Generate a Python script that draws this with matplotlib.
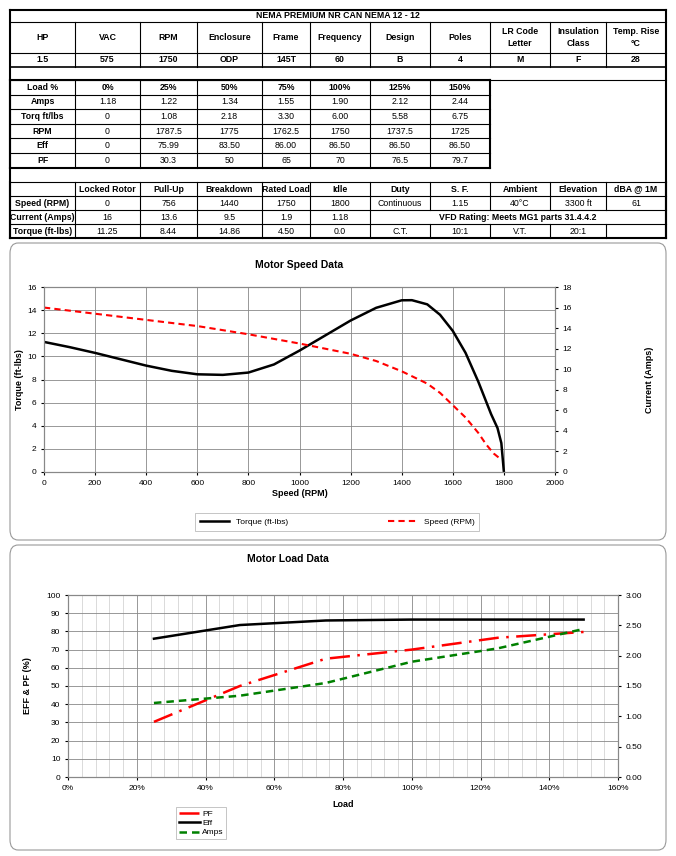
import matplotlib
matplotlib.use("Agg")
import matplotlib.pyplot as plt
from matplotlib.patches import FancyBboxPatch
import numpy as np

W, H = 676, 856
plt.rcParams['font.family'] = ['Liberation Sans', 'DejaVu Sans']

title = "NEMA PREMIUM NR CAN NEMA 12 - 12"
head1 = ["HP", "VAC", "RPM", "Enclosure", "Frame", "Frequency", "Design", "Poles", "LR Code\nLetter", "Insulation\nClass", "Temp. Rise\n°C"]
vals1 = ["1.5", "575", "1750", "ODP", "145T", "60", "B", "4", "M", "F", "28"]
load_rows = [
    ["Load %", "0%", "25%", "50%", "75%", "100%", "125%", "150%"],
    ["Amps", "1.18", "1.22", "1.34", "1.55", "1.90", "2.12", "2.44"],
    ["Torq ft/lbs", "0", "1.08", "2.18", "3.30", "6.00", "5.58", "6.75"],
    ["RPM", "0", "1787.5", "1775", "1762.5", "1750", "1737.5", "1725"],
    ["Eff", "0", "75.99", "83.50", "86.00", "86.50", "86.50", "86.50"],
    ["PF", "0", "30.3", "50", "65", "70", "76.5", "79.7"],
]
perf_head = ["", "Locked Rotor", "Pull-Up", "Breakdown", "Rated Load", "Idle", "Duty", "S. F.", "Ambient", "Elevation", "dBA @ 1M"]
perf_rows = [
    ["Speed (RPM)", "0", "756", "1440", "1750", "1800", "Continuous", "1.15", "40°C", "3300 ft", "61"],
    ["Current (Amps)", "16", "13.6", "9.5", "1.9", "1.18"],
    ["Torque (ft-lbs)", "11.25", "8.44", "14.86", "4.50", "0.0", "C.T.", "10:1", "V.T.", "20:1", ""],
]
vfd_text = "VFD Rating: Meets MG1 parts 31.4.4.2"

spd_x = [0, 100, 200, 300, 400, 500, 600, 700, 800, 900, 1000, 1100, 1200, 1300, 1400, 1440, 1500, 1550, 1600, 1650, 1700, 1750, 1775, 1790, 1800]
torque = [11.25, 10.8, 10.3, 9.75, 9.2, 8.75, 8.45, 8.4, 8.6, 9.3, 10.5, 11.8, 13.1, 14.2, 14.85, 14.86, 14.5, 13.6, 12.2, 10.3, 7.8, 5.0, 3.8, 2.5, 0.0]
cur_x = [0, 200, 400, 600, 800, 1000, 1200, 1300, 1400, 1450, 1500, 1550, 1600, 1650, 1700, 1730, 1760, 1790]
current = [16.0, 15.4, 14.8, 14.2, 13.4, 12.5, 11.5, 10.8, 9.8, 9.2, 8.6, 7.7, 6.5, 5.3, 3.8, 2.7, 1.8, 1.2]

load_pct = [25, 50, 75, 100, 125, 150]
eff = [75.99, 83.50, 86.00, 86.50, 86.50, 86.50]
pf = [30.3, 50, 65, 70, 76.5, 79.7]
amps = [1.22, 1.34, 1.55, 1.90, 2.12, 2.44]

fig = plt.figure(figsize=(W/100, H/100), dpi=100)
fig.patch.set_facecolor('white')

def X(px): return px / W
def Y(py): return 1 - py / H
def hline(x0, x1, y, lw=0.8):
    fig.add_artist(plt.Line2D([X(x0), X(x1)], [Y(y), Y(y)], color='black', lw=lw))
def vline(x, y0, y1, lw=0.8):
    fig.add_artist(plt.Line2D([X(x), X(x)], [Y(y0), Y(y1)], color='black', lw=lw))
def txt(x, y, s, bold=False, size=6.3):
    fig.text(X(x), Y(y), s, ha='center', va='center', fontsize=size,
             fontweight='bold' if bold else 'normal', linespacing=1.4)

# Panels (behind everything)
for (y0, y1) in [(243, 540), (545, 850)]:
    fig.add_artist(FancyBboxPatch((X(10), Y(y1)), X(656), (y1 - y0) / H,
                                  boxstyle="round,pad=0,rounding_size=0.012",
                                  fc='white', ec='#999999', lw=0.8,
                                  transform=fig.transFigure, zorder=-5))

cols = [10, 75, 140, 197, 262, 310, 370, 430, 490, 550, 606, 666]
# Table 1
hline(10, 666, 10, 1.5); hline(10, 666, 22); hline(10, 666, 53); hline(10, 666, 67, 1.2)
vline(10, 10, 238, 1.5); vline(666, 10, 238, 1.5)
txt(338, 16, title, bold=True)
for i in range(11):
    if i > 0:
        vline(cols[i], 22, 67)
    cx = (cols[i] + cols[i+1]) / 2
    txt(cx, 37.5, head1[i], bold=True)
    txt(cx, 60, vals1[i], bold=True)
# Load table
ly = [80, 95, 109, 124, 138, 153, 168]
for y in ly:
    hline(10, 490, y, 1.5 if y in (80, 168) else 0.8)
hline(10, 666, 80, 0.8)
for i in range(9):
    vline(cols[i], 80, 168, 1.5 if i in (0, 8) else 0.8)
for r, row in enumerate(load_rows):
    for c, s in enumerate(row):
        txt((cols[c] + cols[c+1]) / 2, (ly[r] + ly[r+1]) / 2, s, bold=(r == 0 or c == 0))
# Performance table
py = [182, 196, 210, 224, 238]
for y in py:
    hline(10, 666, y, 1.5 if y == 238 else 0.8)
for i in range(12):
    if i in (7, 8, 9, 10):
        vline(cols[i], 182, 210); vline(cols[i], 224, 238)
    else:
        vline(cols[i], 182, 238, 1.5 if i in (0, 11) else 0.8)
for c, s in enumerate(perf_head):
    txt((cols[c] + cols[c+1]) / 2, 189, s, bold=True)
for r, row in enumerate(perf_rows):
    for c, s in enumerate(row):
        txt((cols[c] + cols[c+1]) / 2, (py[r+1] + py[r+2]) / 2, s, bold=(c == 0))
txt((370 + 666) / 2, 217, vfd_text, bold=True)

# Speed chart
ax = fig.add_axes([X(44), Y(472), X(555 - 44), (472 - 287) / H])
l1, = ax.plot(spd_x, torque, color='black', lw=1.8, label='Torque (ft-lbs)')
ax.set_xlim(0, 2000); ax.set_ylim(0, 16)
ax.set_xticks(range(0, 2001, 200)); ax.set_yticks(range(0, 17, 2))
ax.grid(True, color='#888888', lw=0.6)
ax.tick_params(labelsize=6, length=2)
ax.set_xlabel('Speed (RPM)', fontsize=6.5, fontweight='bold', labelpad=2)
ax.set_ylabel('Torque (ft-lbs)', fontsize=6.5, fontweight='bold', labelpad=2)
ax.set_title('Motor Speed Data', fontsize=7.5, fontweight='bold', pad=14)
for s in ax.spines.values(): s.set_color('#888888')
ax2 = ax.twinx()
l2, = ax2.plot(cur_x, current, color='red', lw=1.5, ls=(0, (3, 2)), label='Speed (RPM)')
ax2.set_ylim(0, 18); ax2.set_yticks(range(0, 19, 2))
ax2.tick_params(labelsize=6, length=2)
ax2.set_ylabel('Current (Amps)', fontsize=6.5, fontweight='bold')
ax2.yaxis.set_label_coords((645 - 44) / 511, 0.5)
for s in ax2.spines.values(): s.set_color('#888888')
leg = fig.legend([l1, l2], ['Torque (ft-lbs)', 'Speed (RPM)'], ncol=2, fontsize=6,
                 loc='center', bbox_to_anchor=(X(337), Y(522)), fancybox=False,
                 edgecolor='#aaaaaa', columnspacing=12, handlelength=3.5, borderpad=0.6)
leg.get_frame().set_linewidth(0.6)

# Load chart
bx = fig.add_axes([X(68), Y(777), X(618 - 68), (777 - 595) / H])
p1, = bx.plot(load_pct, pf, color='red', lw=1.8, ls=(0, (8, 3, 1, 3)), label='PF')
p2, = bx.plot(load_pct, eff, color='black', lw=1.8, label='Eff')
bx.set_xlim(0, 160); bx.set_ylim(0, 100)
bx.set_xticks(range(0, 161, 20)); bx.set_xticklabels([f"{v}%" for v in range(0, 161, 20)])
bx.set_xticks(range(0, 161, 4), minor=True)
bx.set_yticks(range(0, 101, 10))
bx.grid(True, which='major', color='#888888', lw=0.6)
bx.grid(True, which='minor', axis='x', color='#cccccc', lw=0.5)
bx.tick_params(labelsize=6, length=2)
bx.tick_params(which='minor', length=0)
bx.set_xlabel('Load', fontsize=6.5, fontweight='bold', labelpad=6)
bx.set_ylabel('EFF & PF (%)', fontsize=6.5, fontweight='bold', labelpad=10)
bx.set_title('Motor Load Data', fontsize=7.5, fontweight='bold', pad=24, x=0.4)
for s in bx.spines.values(): s.set_color('#888888')
bx2 = bx.twinx()
p3, = bx2.plot(load_pct, amps, color='green', lw=1.8, ls=(0, (3, 2)), label='Amps')
bx2.set_ylim(0, 3); bx2.set_yticks(np.arange(0, 3.01, 0.5))
bx2.set_yticklabels([f"{v:.2f}" for v in np.arange(0, 3.01, 0.5)])
bx2.tick_params(labelsize=6, length=2)
for s in bx2.spines.values(): s.set_color('#888888')
leg2 = fig.legend([p1, p2, p3], ['PF', 'Eff', 'Amps'], fontsize=6, loc='upper left',
                  bbox_to_anchor=(X(172), Y(803)), fancybox=False, edgecolor='#aaaaaa',
                  handlelength=2.5, borderpad=0.3, labelspacing=0.2, handletextpad=0.3)
leg2.get_frame().set_linewidth(0.6)

fig.savefig('out.png', dpi=100)
